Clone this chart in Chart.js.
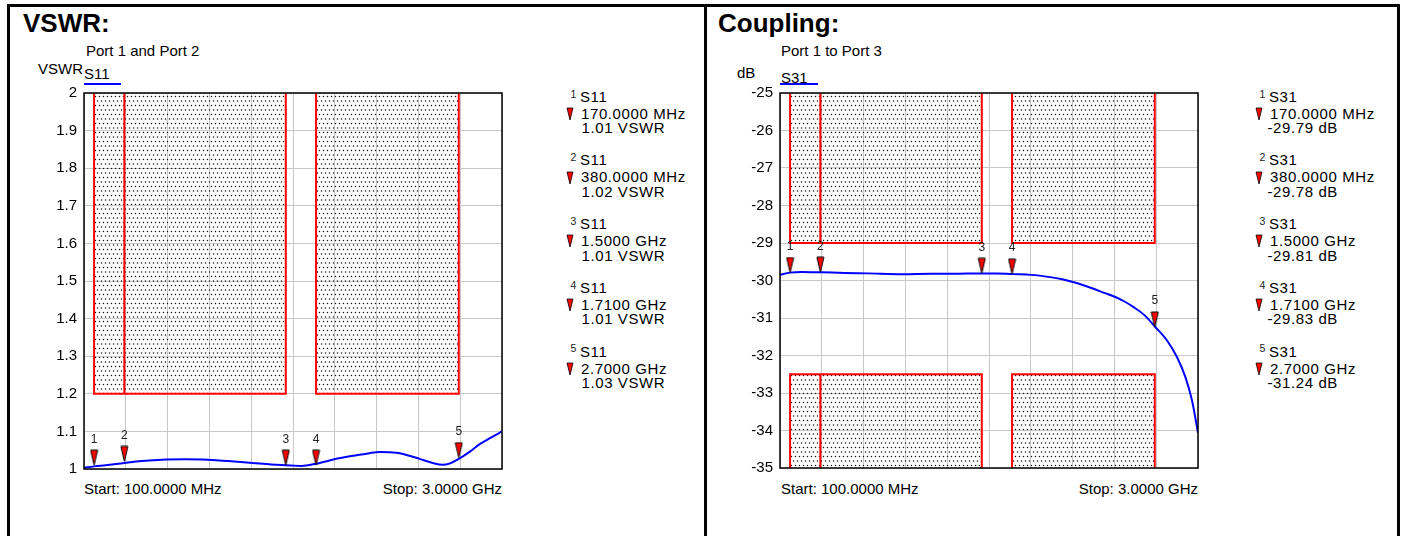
<!DOCTYPE html>
<html lang="en">
<head>
    <meta charset="UTF-8">
    <title>VSWR and Coupling</title>
    <script src="https://cdn.jsdelivr.net/npm/chart.js"></script>
    <style>
        body { margin: 0; width: 1403px; height: 536px; overflow: hidden; background: #fff; font-family: "Liberation Sans", Arial, sans-serif; color: #000; position: relative; }
        .frame { position: absolute; left: 7px; top: 4px; width: 1387px; height: 600px; border: 3px solid #000; }
        .divider { position: absolute; left: 704px; top: 5px; width: 3px; height: 540px; background: #000; }
        .t { position: absolute; white-space: nowrap; font-size: 15px; line-height: 15px; }
        .lg { position: absolute; white-space: nowrap; font-size: 15px; line-height: 15px; letter-spacing: 0.6px; }
        .title { position: absolute; font-size: 26px; line-height: 30px; font-weight: bold; }
        .sup { position: absolute; font-size: 10.5px; line-height: 10px; color: #222; }
        .trace { position: absolute; height: 2px; background: #0000ff; }
        canvas { position: absolute; }
    </style>
</head>
<body>
    <div class="frame"></div>
    <div class="divider"></div>

    <div class="title" style="left:23px; top:8px;">VSWR:</div>
    <div class="t" style="left:86px; top:43px;">Port 1 and Port 2</div>
    <div class="t" style="left:38px; top:61px;">VSWR</div>
    <div class="t" style="left:84px; top:66px;">S11</div>
    <div class="trace" style="left:84px; top:83px; width:37px;"></div>
    <div class="t" style="left:84px; top:481px;">Start: 100.0000 MHz</div>
    <div class="t" style="left:340px; top:481px; width:162px; text-align:right;">Stop: 3.0000 GHz</div>

    <div class="title" style="left:718px; top:8px;">Coupling:</div>
    <div class="t" style="left:781px; top:43px;">Port 1 to Port 3</div>
    <div class="t" style="left:737px; top:65px;">dB</div>
    <div class="t" style="left:781px; top:70px;">S31</div>
    <div class="trace" style="left:780px; top:83px; width:38px;"></div>
    <div class="t" style="left:781px; top:481px;">Start: 100.0000 MHz</div>
    <div class="t" style="left:1036px; top:481px; width:162px; text-align:right;">Stop: 3.0000 GHz</div>

    <canvas id="vswrChart" width="480" height="415" style="left:30px; top:77px;"></canvas>
    <canvas id="couplingChart" width="480" height="414" style="left:726px; top:77px;"></canvas>

    <script>
        // sweep, MHz
        const startFreq = 100;
        const stopFreq = 3000;

        // S11 trace
        const vswrFreqs = [100, 170, 250, 380, 500, 672, 800, 925, 1100, 1270, 1400, 1500, 1608, 1710, 1850, 1966, 2080, 2151, 2267, 2350, 2429, 2520, 2587, 2640, 2700, 2780, 2845, 2920, 3000];
        const vswrValues = [1.003, 1.007, 1.010, 1.016, 1.021, 1.025, 1.026, 1.025, 1.021, 1.016, 1.012, 1.010, 1.008, 1.014, 1.027, 1.035, 1.042, 1.045, 1.043, 1.036, 1.027, 1.016, 1.011, 1.015, 1.027, 1.047, 1.066, 1.083, 1.100];

        // S31 trace
        const couplingFreqs = [100, 170, 250, 380, 550, 709, 953, 1150, 1300, 1500, 1604, 1710, 1842, 1974, 2050, 2132, 2200, 2275, 2350, 2426, 2490, 2553, 2630, 2699, 2785, 2854, 2912, 2958, 3000];
        const couplingValues = [-29.85, -29.79, -29.77, -29.78, -29.80, -29.81, -29.83, -29.82, -29.82, -29.81, -29.81, -29.83, -29.85, -29.91, -29.96, -30.04, -30.12, -30.22, -30.33, -30.44, -30.56, -30.71, -30.93, -31.22, -31.60, -32.04, -32.57, -33.19, -34.06];

        // markers
        const markerNumbers = ['1', '2', '3', '4', '5'];
        const markerFreqs = [170, 380, 1500, 1710, 2700];
        const vswrMarkerValues = [1.01, 1.02, 1.01, 1.01, 1.03];
        const couplingMarkerValues = [-29.79, -29.78, -29.81, -29.83, -31.24];

        // limit masks: bands in MHz, plus the extra line at 380 MHz
        const maskBands = [[170, 1500], [1710, 2700]];
        const maskSplit = 380;
        const vswrLimit = 1.2;
        const couplingUpper = -29;
        const couplingLower = -32.5;

        // axis ticks
        const vswrTicks = [1, 1.1, 1.2, 1.3, 1.4, 1.5, 1.6, 1.7, 1.8, 1.9, 2];
        const couplingTicks = [-35, -34, -33, -32, -31, -30, -29, -28, -27, -26, -25];
        const freqGrid = [];
        for (let i = 0; i <= 10; i++) freqGrid.push(startFreq + i * (stopFreq - startFreq) / 10);

        const FONT = '"Liberation Sans", Arial, sans-serif';

        function dotPattern(ctx) {
            const c = document.createElement('canvas');
            c.width = 4; c.height = 9;
            const g = c.getContext('2d');
            g.fillStyle = '#111';
            g.beginPath(); g.arc(1.5, 1.5, 0.75, 0, Math.PI * 2); g.fill();
            g.beginPath(); g.arc(3.5, 6, 0.75, 0, Math.PI * 2); g.fill();
            g.beginPath(); g.arc(-0.5, 6, 0.75, 0, Math.PI * 2); g.fill();
            return ctx.createPattern(c, 'repeat');
        }

        function markerImage(w, h) {
            // tip sits at the centre of the image so it lands on the data point
            const c = document.createElement('canvas');
            c.width = w + 2; c.height = h * 2 + 2;
            const g = c.getContext('2d');
            g.beginPath();
            g.moveTo(1, 1); g.lineTo(w + 1, 1); g.lineTo(w / 2 + 1, h + 1); g.closePath();
            g.fillStyle = '#ff0000'; g.fill();
            g.strokeStyle = '#000'; g.lineWidth = 1; g.stroke();
            return c;
        }

        const chartFrame = {
            id: 'chartFrame',
            afterDatasetsDraw(chart) {
                const a = chart.chartArea, ctx = chart.ctx;
                ctx.save();
                ctx.strokeStyle = '#000';
                ctx.lineWidth = 1.5;
                ctx.strokeRect(a.left, a.top, a.right - a.left, a.bottom - a.top);
                ctx.restore();
            }
        };

        const markerLabels = {
            id: 'markerLabels',
            afterDatasetsDraw(chart) {
                const idx = chart.data.datasets.findIndex(d => d.isMarker);
                const meta = chart.getDatasetMeta(idx);
                const ctx = chart.ctx;
                ctx.save();
                ctx.font = '12px ' + FONT;
                ctx.fillStyle = '#222';
                ctx.textAlign = 'center';
                ctx.textBaseline = 'middle';
                meta.data.forEach((pt, i) => ctx.fillText(markerNumbers[i], pt.x, pt.y - 26));
                ctx.restore();
            }
        };

        function maskBox(x0, x1, edge, limit, pattern) {
            return {
                data: [{ x: x0, y: edge }, { x: x0, y: limit }, { x: x1, y: limit }, { x: x1, y: edge }],
                borderColor: '#ff0000', borderWidth: 2, backgroundColor: pattern,
                fill: { value: edge }, pointRadius: 0, tension: 0, order: 5
            };
        }

        function splitLine(edge, limit) {
            return {
                data: [{ x: maskSplit, y: edge }, { x: maskSplit, y: limit }],
                borderColor: '#ff0000', borderWidth: 2, fill: false, pointRadius: 0, order: 4
            };
        }

        function makeChart(id, cfg) {
            const canvas = document.getElementById(id);
            const pattern = dotPattern(canvas.getContext('2d'));
            const datasets = [];
            cfg.masks.forEach(m => {
                maskBands.forEach(b => datasets.push(maskBox(b[0], b[1], m.edge, m.limit, pattern)));
                datasets.push(splitLine(m.edge, m.limit));
            });
            datasets.push({
                data: cfg.freqs.map((f, i) => ({ x: f, y: cfg.values[i] })),
                borderColor: '#0000ff', borderWidth: 2, pointRadius: 0, fill: false,
                cubicInterpolationMode: 'monotone', order: 1
            });
            datasets.push({
                isMarker: true,
                data: markerFreqs.map((f, i) => ({ x: f, y: cfg.markers[i] })),
                showLine: false, pointRadius: 4, pointStyle: markerImage(7, 15), order: 0
            });

            return new Chart(canvas, {
                type: 'line',
                data: { datasets: datasets },
                options: {
                    responsive: false,
                    animation: false,
                    events: [],
                    layout: { padding: { top: 5, right: 8, left: 0, bottom: 0 } },
                    plugins: { legend: { display: false }, tooltip: { enabled: false } },
                    scales: {
                        x: {
                            type: 'linear', min: startFreq, max: stopFreq,
                            afterBuildTicks: s => { s.ticks = freqGrid.map(v => ({ value: v })); },
                            afterFit: s => { s.height = 23; },
                            ticks: { display: false },
                            grid: { color: '#c8c8c8', lineWidth: 1, drawTicks: false },
                            border: { display: false }
                        },
                        y: {
                            min: cfg.ticks[0], max: cfg.ticks[cfg.ticks.length - 1],
                            afterBuildTicks: s => { s.ticks = cfg.ticks.map(v => ({ value: v })); },
                            afterFit: s => { s.width = 54; },
                            ticks: {
                                padding: 7, color: '#000', font: { family: FONT, size: 15 },
                                callback: v => String(Math.round(v * 10) / 10)
                            },
                            grid: { color: '#c8c8c8', lineWidth: 1, drawTicks: false },
                            border: { display: false }
                        }
                    }
                },
                plugins: [chartFrame, markerLabels]
            });
        }

        makeChart('vswrChart', {
            freqs: vswrFreqs, values: vswrValues, markers: vswrMarkerValues, ticks: vswrTicks,
            masks: [{ edge: 2, limit: vswrLimit }]
        });
        makeChart('couplingChart', {
            freqs: couplingFreqs, values: couplingValues, markers: couplingMarkerValues, ticks: couplingTicks,
            masks: [{ edge: -25, limit: couplingUpper }, { edge: -35, limit: couplingLower }]
        });

        // marker tables on the right of each plot
        function fmtFreq(f) {
            return f < 1000 ? f.toFixed(4) + ' MHz' : (f / 1000).toFixed(4) + ' GHz';
        }

        function addText(cls, text, left, top) {
            const d = document.createElement('div');
            d.className = cls;
            d.textContent = text;
            d.style.left = left + 'px';
            d.style.top = top + 'px';
            document.body.appendChild(d);
        }

        function addTriangle(left, top) {
            const ns = 'http://www.w3.org/2000/svg';
            const svg = document.createElementNS(ns, 'svg');
            svg.setAttribute('width', '8');
            svg.setAttribute('height', '14');
            svg.style.position = 'absolute';
            svg.style.left = left + 'px';
            svg.style.top = top + 'px';
            const p = document.createElementNS(ns, 'polygon');
            p.setAttribute('points', '1,1 7,1 4,13');
            p.setAttribute('fill', '#ff0000');
            p.setAttribute('stroke', '#000');
            p.setAttribute('stroke-width', '0.8');
            svg.appendChild(p);
            document.body.appendChild(svg);
        }

        function markerTable(x, trace, values, unit, valueShift) {
            markerFreqs.forEach((f, i) => {
                const cy = 96 + 63.7 * i;
                addText('sup', markerNumbers[i], x - 9.5, cy - 7.5);
                addText('lg', trace, x, cy - 7.3);
                addTriangle(x - 14, cy + 11);
                addText('lg', fmtFreq(f), x + 1, cy + 17 - 7.3);
                addText('lg', values[i].toFixed(2) + ' ' + unit, x + valueShift, cy + 31.5 - 7.3);
            });
        }

        markerTable(580, 'S11', vswrMarkerValues, 'VSWR', 1.5);
        markerTable(1269, 'S31', couplingMarkerValues, 'dB', -1.5);
    </script>
</body>
</html>
